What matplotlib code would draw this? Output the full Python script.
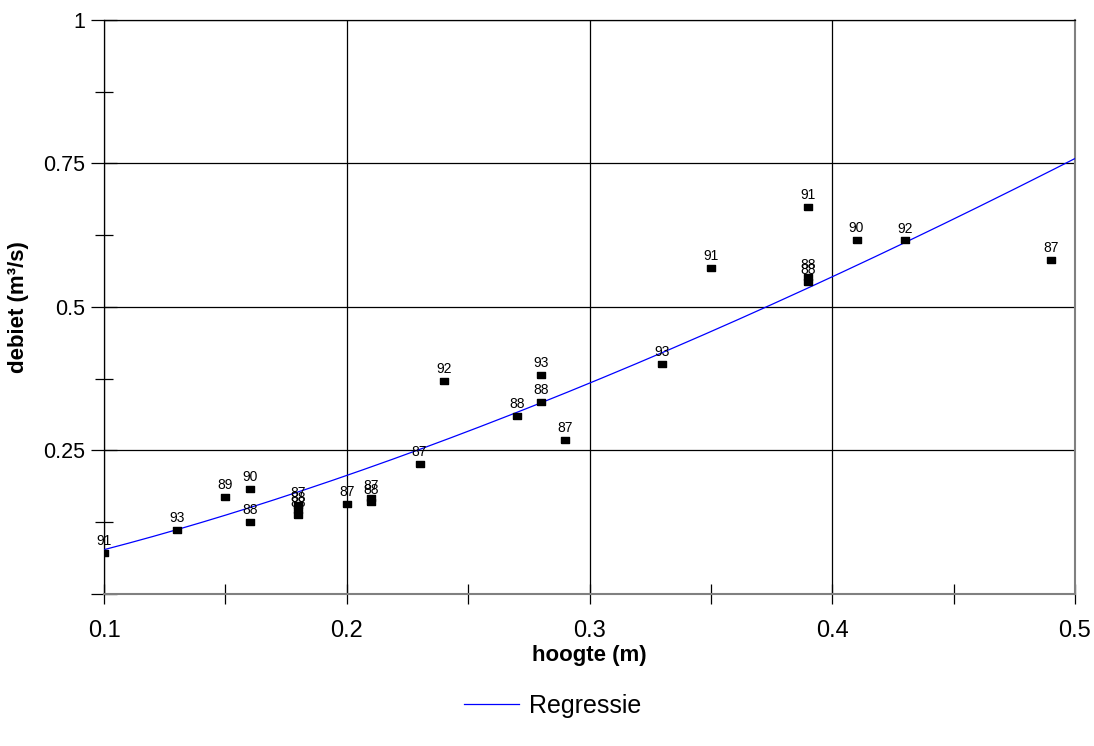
import numpy as np
import matplotlib
matplotlib.use('Agg')
import matplotlib.pyplot as plt
from matplotlib.ticker import MultipleLocator

plt.rcParams['font.family'] = ['Liberation Sans', 'DejaVu Sans']

# measured points: water height (m), discharge (m3/s), year of measurement
hoogte = [0.10, 0.13, 0.15, 0.16, 0.16, 0.18, 0.18, 0.18, 0.20, 0.21, 0.21, 0.23, 0.24,
          0.27, 0.28, 0.28, 0.29, 0.33, 0.35, 0.39, 0.39, 0.39, 0.41, 0.43, 0.49]
debiet = [0.071, 0.111, 0.169, 0.183, 0.125, 0.155, 0.146, 0.138, 0.157, 0.168, 0.161, 0.226, 0.371,
          0.310, 0.334, 0.381, 0.268, 0.401, 0.568, 0.674, 0.552, 0.543, 0.617, 0.616, 0.582]
jaar = ['91', '93', '89', '90', '88', '87', '88', '88', '87', '87', '88', '87', '92',
        '88', '88', '93', '87', '93', '91', '91', '88', '88', '90', '92', '87']

x_ticks = [0.1, 0.2, 0.3, 0.4, 0.5]
x_labels = ['0.1', '0.2', '0.3', '0.4', '0.5']
y_ticks = [0, 0.25, 0.5, 0.75, 1]
y_labels = ['', '0.25', '0.5', '0.75', '1']

# regression Q = a * h^b
reg_a = 2.03
reg_b = 1.42

fig = plt.figure(figsize=(10.94, 7.46), dpi=100)
ax = fig.add_axes([0.0951, 0.2038, 0.8875, 0.7694])

hh = np.linspace(0.1, 0.5, 200)
ax.plot(hh, reg_a * hh ** reg_b, color='#0000ff', lw=0.9, label='Regressie', zorder=3)

box = [(-1, -0.68), (1, -0.68), (1, 0.68), (-1, 0.68), (-1, -0.68)]
ax.plot(hoogte, debiet, ls='none', marker=box, ms=6, color='black', zorder=4)
for x, y, t in zip(hoogte, debiet, jaar):
    ax.annotate(t, (x, y), xytext=(0, 3.5), textcoords='offset points',
                ha='center', va='bottom', fontsize=10, zorder=5)

ax.set_xlim(0.1, 0.5)
ax.set_ylim(0, 1)
ax.set_xticks(x_ticks)
ax.set_xticklabels(x_labels)
ax.xaxis.set_minor_locator(MultipleLocator(0.05))
ax.set_yticks(y_ticks)
ax.set_yticklabels(y_labels)
ax.yaxis.set_minor_locator(MultipleLocator(0.125))

ax.grid(True, which='major', color='black', lw=0.9)
ax.tick_params(axis='x', which='both', direction='inout', length=14, width=0.9,
               labelsize=17, pad=12)
ax.tick_params(axis='y', which='major', direction='inout', length=19, width=0.9,
               labelsize=15.5, pad=4)
ax.tick_params(axis='y', which='minor', direction='inout', length=13, width=0.9)

for s in ['left', 'top']:
    ax.spines[s].set_color('black')
    ax.spines[s].set_linewidth(0.9)
for s in ['right', 'bottom']:
    ax.spines[s].set_color('#808080')
    ax.spines[s].set_linewidth(1.5)

ax.set_xlabel('hoogte (m)', fontsize=16, fontweight='bold', labelpad=2)
ax.set_ylabel('debiet (m³/s)', fontsize=16, fontweight='bold', labelpad=10)

fig.legend(loc='center', bbox_to_anchor=(0.505, 0.054), frameon=False, fontsize=18,
           handlelength=2.2, handletextpad=0.4)

fig.savefig('out.png', dpi=100)
